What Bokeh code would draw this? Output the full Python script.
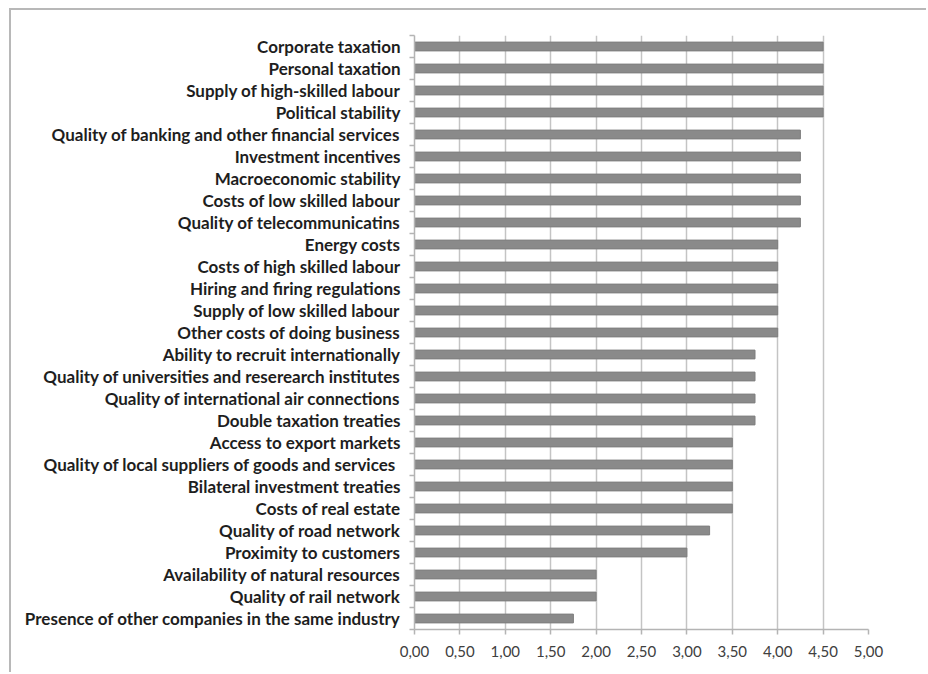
from bokeh.plotting import figure
from bokeh.models import FixedTicker, CustomJSTickFormatter, Range1d
from bokeh.embed import file_html
from bokeh.resources import INLINE

# Location factors, listed top to bottom, with their average scores
factors = [
    "Corporate taxation",
    "Personal taxation",
    "Supply of high-skilled labour",
    "Political stability",
    "Quality of banking and other financial services",
    "Investment incentives",
    "Macroeconomic stability",
    "Costs of low skilled labour",
    "Quality of telecommunicatins",
    "Energy costs",
    "Costs of high skilled labour",
    "Hiring and firing regulations",
    "Supply of low skilled labour",
    "Other costs of doing business",
    "Ability to recruit internationally",
    "Quality of universities and reserearch institutes",
    "Quality of international air connections",
    "Double taxation treaties",
    "Access to export markets",
    "Quality of local  suppliers of goods and services",
    "Bilateral investment treaties",
    "Costs of real estate",
    "Quality of road network",
    "Proximity to customers",
    "Availability of natural resources",
    "Quality of rail network",
    "Presence of other companies in the same industry",
]
scores = [
    4.50, 4.50, 4.50, 4.50,
    4.25, 4.25, 4.25, 4.25, 4.25,
    4.00, 4.00, 4.00, 4.00, 4.00,
    3.75, 3.75, 3.75, 3.75,
    3.50, 3.50, 3.50, 3.50,
    3.25, 3.00, 2.00, 2.00, 1.75,
]
x_ticks = [0.0, 0.5, 1.0, 1.5, 2.0, 2.5, 3.0, 3.5, 4.0, 4.5, 5.0]

n = len(factors)
rows = list(range(n))

p = figure(width=917, height=664, output_backend="svg", toolbar_location=None,
           x_range=Range1d(0, 5), y_range=Range1d(n - 0.5, -0.5),
           min_border_left=403, min_border_right=60,
           min_border_top=25, min_border_bottom=45)
p.outline_line_color = None
p.background_fill_color = "white"
p.border_fill_color = "white"
# chart border: only its top and left edges fall inside the page
p.margin = (8, 0, 0, 9)
p.styles = {"border-left": "2px solid #b8b8b8", "border-top": "2px solid #b8b8b8"}

p.hbar(y=rows, right=scores, left=0, height=0.4,
       fill_color="#8a8a8a", line_color="#7e7e7e", line_width=1)

# x axis: comma decimal labels, ticks pointing down
p.xaxis.ticker = FixedTicker(ticks=x_ticks)
p.xaxis.formatter = CustomJSTickFormatter(code="return tick.toFixed(2).replace('.', ',');")
p.xaxis.axis_line_color = "#b4b4b4"
p.xaxis.axis_line_width = 1.5
p.xaxis.major_tick_line_color = "#b4b4b4"
p.xaxis.major_tick_line_width = 1.5
p.xaxis.major_tick_out = 5
p.xaxis.major_tick_in = 0
p.xaxis.minor_tick_line_color = None
p.xaxis.major_label_text_font = "Lato"
p.xaxis.major_label_text_font_size = "15px"
p.xaxis.major_label_text_color = "#404040"
p.xaxis.major_label_standoff = 11

# y axis: labels at row centres, short ticks at row boundaries
p.yaxis.ticker = FixedTicker(ticks=rows, minor_ticks=[r - 0.5 for r in range(n + 1)])
p.yaxis.major_label_overrides = {i: f for i, f in enumerate(factors)}
p.yaxis.axis_line_color = "#b4b4b4"
p.yaxis.axis_line_width = 1.5
p.yaxis.major_tick_line_color = None
p.yaxis.minor_tick_line_color = "#b4b4b4"
p.yaxis.minor_tick_line_width = 1.5
p.yaxis.minor_tick_out = 5
p.yaxis.minor_tick_in = 0
p.yaxis.major_label_text_font = "Lato"
p.yaxis.major_label_text_font_style = "bold"
p.yaxis.major_label_text_font_size = "17px"
p.yaxis.major_label_text_color = "#1e1e1e"
p.yaxis.major_label_standoff = 8

p.xgrid.ticker = FixedTicker(ticks=x_ticks)
p.xgrid.grid_line_color = "#c4c4c4"
p.xgrid.grid_line_width = 1.5
p.ygrid.grid_line_color = None

open("out.html", "w").write(file_html(p, INLINE))
